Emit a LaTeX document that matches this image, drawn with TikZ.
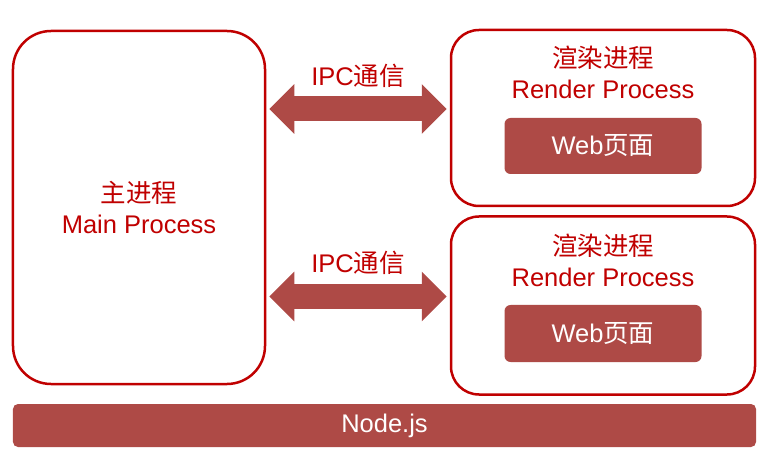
\documentclass[tikz,border=0pt]{standalone}
\usepackage{fontspec}
\setmainfont{Liberation Sans}
\newfontfamily\zhfont{Noto Sans CJK SC}
\newcommand{\zh}[1]{{\zhfont #1}}
\usetikzlibrary{arrows.meta,positioning,calc}
\definecolor{clBorder}{HTML}{C00000}
\definecolor{clFill}{HTML}{AE4A46}
\tikzset{
  procbox/.style={rectangle, draw=clBorder, line width=2.5bp, fill=white,
                  rounded corners=28bp, inner sep=0pt},
  mainbox/.style={procbox, rounded corners=38bp},
  solidbox/.style={rectangle, fill=clFill, rounded corners=6bp, inner sep=0pt,
                   text=white, font=\fontsize{25.5bp}{31bp}\selectfont},
  lbl/.style={align=center, text=clBorder, inner sep=0pt,
              font=\fontsize{25.5bp}{31bp}\selectfont},
  ipc/.style={line width=25bp, draw=clFill, shorten <=3bp, shorten >=3bp,
              {Triangle[length=25bp, width=48bp]}-{Triangle[length=25bp, width=48bp]}},
}

\begin{document}
\begin{tikzpicture}[x=1bp, y=-1bp]
  \useasboundingbox (0,0) rectangle (771,455);
  % processes
  \node[mainbox, minimum width=252bp, minimum height=353bp] (main) at (139,207.5) {};
  \node[procbox, minimum width=304bp, minimum height=176bp] (r1) at (603,118) {};
  \node[procbox, minimum width=304bp, minimum height=178bp] (r2) at (603,305.5) {};
  \node[lbl] (mainlbl) at (main.center) {\zh{主进程}\\Main Process};
  \node[lbl] (r1lbl) at ([yshift=-44bp]r1.north) {\zh{渲染进程}\\Render Process};
  \node[lbl] (r2lbl) at ([yshift=-45bp]r2.north) {\zh{渲染进程}\\Render Process};
  \node[solidbox, minimum width=197bp, minimum height=56bp] (web1) at ([yshift=-28bp]r1.center) {Web\zh{页面}};
  \node[solidbox, minimum width=197bp, minimum height=57bp] (web2) at ([yshift=-28bp]r2.center) {Web\zh{页面}};
  \node[solidbox, rounded corners=5bp, minimum width=743bp, minimum height=43bp] (node) at (384.5,425.5) {Node.js};
  % IPC
  \draw[ipc] ([yshift=9bp]r1.west -| main.east) -- ([yshift=9bp]r1.west)
    node[lbl, midway, yshift=33bp] (ipc1) {IPC\zh{通信}};
  \draw[ipc] ([yshift=9bp]r2.west -| main.east) -- ([yshift=9bp]r2.west)
    node[lbl, midway, yshift=34bp] (ipc2) {IPC\zh{通信}};
\end{tikzpicture}
\end{document}
